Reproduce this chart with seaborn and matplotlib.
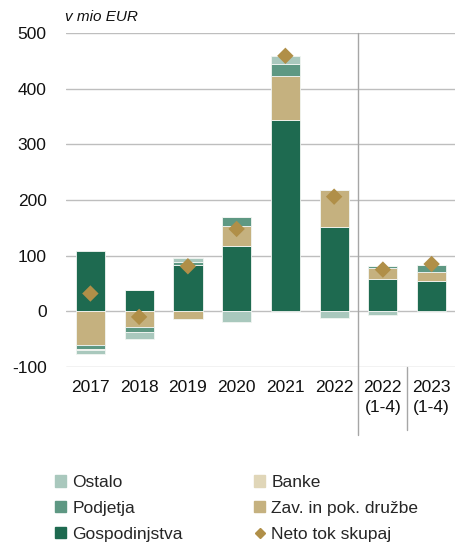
import matplotlib
matplotlib.use("Agg")
import matplotlib.pyplot as plt
import seaborn as sns
import numpy as np
from matplotlib.patches import Patch
from matplotlib.lines import Line2D

# Data (v mio EUR)
categories = ["2017", "2018", "2019", "2020", "2021", "2022", "2022\n(1-4)", "2023\n(1-4)"]
gospodinjstva = [108, 38, 84, 117, 344, 151, 58, 54]
zav_pok = [-60, -28, -14, 37, 79, 67, 19, 17]
podjetja = [-8, -10, 5, 15, 22, 0, 4, 13]
banke = [-2, 0, 0, 0, 0, 0, 0, 0]
ostalo = [-6, -12, 6, -20, 14, -12, -6, 0]
neto = [32, -10, 81, 148, 459, 206, 75, 85]

series = [
    ("Gospodinjstva", gospodinjstva, "#1E6A50"),
    ("Zav. in pok. družbe", zav_pok, "#C5B17F"),
    ("Podjetja", podjetja, "#5E9883"),
    ("Banke", banke, "#E0D6B8"),
    ("Ostalo", ostalo, "#A9C8BD"),
]
diamond_color = "#B08F48"

sns.set_theme(style="white")
plt.rcParams["font.family"] = ["Liberation Sans", "DejaVu Sans"]

fig = plt.figure(figsize=(4.56, 5.46), dpi=100)
ax = fig.add_axes([66 / 456, 1 - 367 / 546, 390 / 456, 334 / 546])

pos_base = np.zeros(len(categories))
neg_base = np.zeros(len(categories))
for name, vals, col in series:
    v = np.array(vals, dtype=float)
    bottom = np.where(v >= 0, pos_base, neg_base)
    sns.barplot(x=categories, y=v, bottom=bottom, color=col, saturation=1,
                width=0.6, edgecolor="#F2F5F2", linewidth=0.6, ax=ax, zorder=3)
    pos_base += np.where(v > 0, v, 0)
    neg_base += np.where(v < 0, v, 0)

sns.scatterplot(x=categories, y=neto, marker="D", s=70, color=diamond_color,
                edgecolor="none", ax=ax, zorder=5)

ax.set_ylim(-100, 500)
ax.set_xlim(-0.5, 7.5)
ax.set_yticks([-100, 0, 100, 200, 300, 400, 500])
ax.set_yticklabels(["-100", "0", "100", "200", "300", "400", "500"])
ax.grid(axis="y", color="#BEBEBE", linewidth=1.0, zorder=0)
ax.set_axisbelow(True)
for s in ax.spines.values():
    s.set_visible(False)
ax.tick_params(axis="both", length=0, labelsize=12.5, colors="#111111")
ax.tick_params(axis="y", pad=14)
ax.tick_params(axis="x", pad=9)
for lbl in ax.get_xticklabels():
    lbl.set_linespacing(1.45)
ax.set_xlabel("")
ax.set_ylabel("")

# Separators between annual and partial-year periods
trans = ax.get_xaxis_transform()
ax.plot([5.5, 5.5], [1.0, -0.204], transform=trans, color="#A6A6A6",
        linewidth=1.0, clip_on=False, zorder=4)
ax.plot([6.5, 6.5], [0.0, -0.19], transform=trans, color="#A6A6A6",
        linewidth=1.0, clip_on=False, zorder=4)

fig.text(65 / 456, 1 - 17 / 546, "v mio EUR", fontsize=11, style="italic",
         ha="left", va="center", color="#111111")

handles = [
    Patch(color="#A9C8BD", label="Ostalo"),
    Patch(color="#5E9883", label="Podjetja"),
    Patch(color="#1E6A50", label="Gospodinjstva"),
    Patch(color="#E0D6B8", label="Banke"),
    Patch(color="#C5B17F", label="Zav. in pok. družbe"),
    Line2D([], [], marker="D", linestyle="none", color=diamond_color,
           markersize=5, label="Neto tok skupaj"),
]
fig.legend(handles=handles, ncol=2, loc="upper left",
           bbox_to_anchor=(55 / 456, 1 - 475 / 546), frameon=False,
           fontsize=12.5, handlelength=0.65, handleheight=0.65,
           handletextpad=0.35, columnspacing=4.1, labelspacing=0.62,
           borderpad=0, borderaxespad=0)

fig.savefig("out.png", dpi=100)
